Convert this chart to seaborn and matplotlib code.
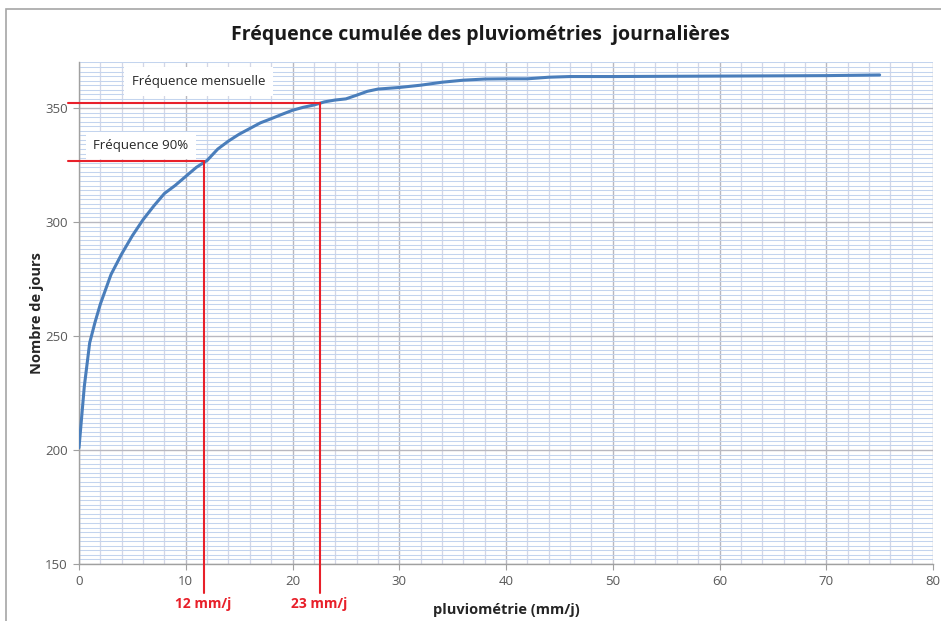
import matplotlib
matplotlib.use("Agg")
import matplotlib.pyplot as plt
import seaborn as sns
import pandas as pd
from matplotlib.patches import Rectangle
from matplotlib.ticker import MultipleLocator

# ---- data ----
pluvio = [0, 0.5, 1, 1.5, 2, 3, 4, 5, 6, 7, 8, 9, 10, 11, 12, 13, 14, 15, 16, 17, 18,
          19, 20, 21, 22, 23, 24, 25, 26, 27, 28, 30, 32, 34, 36, 38, 40, 42, 44, 46,
          50, 60, 70, 75]
jours = [201, 228, 247, 256, 264, 277, 286, 294, 301, 307, 312.5, 316, 320, 324, 327,
         332, 335.5, 338.5, 341, 343.5, 345.3, 347.2, 349, 350.3, 351.3, 352.7, 353.5,
         354, 355.6, 357.3, 358.3, 359, 360, 361.3, 362.2, 362.7, 362.8, 362.8, 363.5,
         363.8, 363.8, 364, 364.2, 364.5]

ref_x = [11.7, 22.6]          # 12 mm/j, 23 mm/j markers
ref_y = [326.8, 352.0]        # Fréquence 90%, Fréquence mensuelle
ref_labels = ["12 mm/j", "23 mm/j"]
box_labels = ["Fréquence 90%", "Fréquence mensuelle"]

title = "Fréquence cumulée des pluviométries  journalières"
xlabel = "pluviométrie (mm/j)"
ylabel = "Nombre de jours"

df = pd.DataFrame({"pluvio": pluvio, "jours": jours})

sns.set_style("white")
plt.rcParams["font.family"] = ["Open Sans", "DejaVu Sans"]

fig = plt.figure(figsize=(9.41, 6.21), dpi=100)
ax = fig.add_axes([79 / 941, 1 - 564 / 621, (933 - 79) / 941, (564 - 62.4) / 621])

# figure frame (left & top visible)
fig.patches.append(Rectangle((6 / 941, -0.05), 1.2, 1 - 9 / 621 + 0.05,
                             transform=fig.transFigure, fill=False,
                             edgecolor="#a6a6a6", lw=1.2, zorder=0))

ax.set_xlim(0, 80)
ax.set_ylim(150, 370)
ax.xaxis.set_major_locator(MultipleLocator(10))
ax.xaxis.set_minor_locator(MultipleLocator(2))
ax.yaxis.set_major_locator(MultipleLocator(50))
ax.yaxis.set_minor_locator(MultipleLocator(2))

ax.grid(which="minor", axis="y", color="#c3d4ee", lw=0.75)
ax.grid(which="minor", axis="x", color="#d3d7e6", lw=0.9)
ax.grid(which="major", axis="both", color="#b8b8c0", lw=1.0)
ax.set_axisbelow(True)

for s in ["top", "right"]:
    ax.spines[s].set_visible(False)
for s in ["left", "bottom"]:
    ax.spines[s].set_color("#a0a0a0")
    ax.spines[s].set_linewidth(1.0)

ax.tick_params(which="major", length=4, color="#a0a0a0", labelsize=9.5,
               labelcolor="#595959", pad=4)
ax.tick_params(which="minor", length=0)
ax.tick_params(axis="x", bottom=True)
ax.tick_params(axis="y", left=True)

sns.lineplot(data=df, x="pluvio", y="jours", ax=ax, color="#4a7ebb", lw=2.2,
             zorder=5)

ax.set_xlabel(xlabel, fontsize=10.5, fontweight="bold", color="#262626")
ax.set_ylabel(ylabel, fontsize=10.5, fontweight="bold", color="#262626")
ax.xaxis.set_label_coords((506 - 79) / 854, (564 - 603) / 501.6)
ax.yaxis.set_label_coords((44 - 79) / 854, 0.5)
fig.text(0.51, 1 - 35 / 621, title, ha="center", va="center", fontsize=14,
         fontweight="bold", color="#1a1a1a")

red = "#e8202a"
# horizontal red lines (extend left of axis)
for xv, yv in zip(ref_x, ref_y):
    ax.plot([-1.05, xv], [yv, yv], color=red, lw=1.5, clip_on=False, zorder=6)
    ax.plot([xv, xv], [yv, 137.5], color=red, lw=1.5, clip_on=False, zorder=6)

for xv, lab in zip(ref_x, ref_labels):
    ax.text(xv - 0.1, 132.5, lab, ha="center", va="center", color=red,
            fontsize=10, fontweight="bold", clip_on=False)

# white text boxes
ax.text(5.8, 333.5, box_labels[0], ha="center", va="center", fontsize=9.5,
        color="#262626", zorder=7,
        bbox=dict(boxstyle="square,pad=0.55", fc="white", ec="none"))
ax.text(11.2, 361.5, box_labels[1], ha="center", va="center", fontsize=9.5,
        color="#262626", zorder=7,
        bbox=dict(boxstyle="square,pad=0.6", fc="white", ec="none"))

fig.savefig("out.png", dpi=100)
